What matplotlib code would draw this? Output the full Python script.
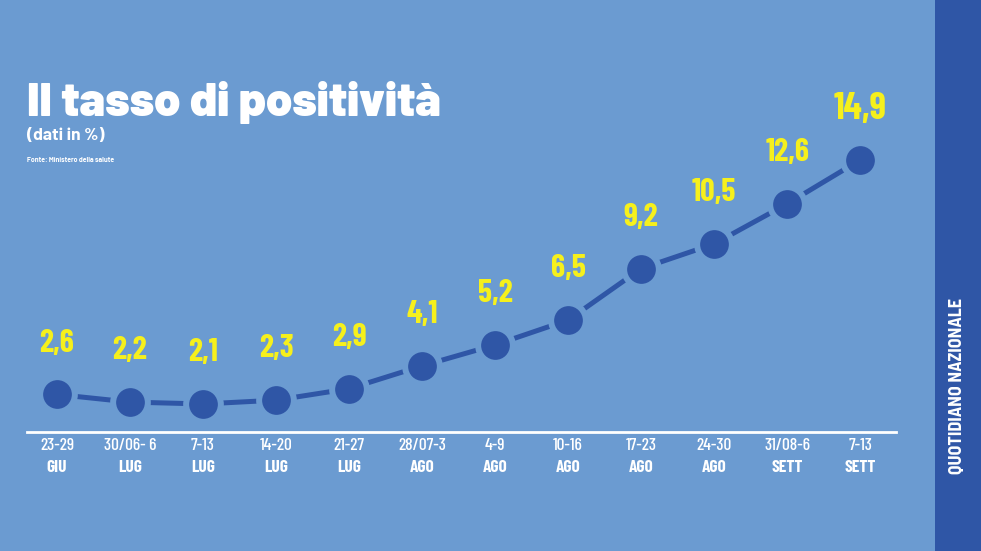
import matplotlib
matplotlib.use("Agg")
import matplotlib.pyplot as plt
import matplotlib.transforms as mtransforms
from matplotlib import font_manager as fm

# dati
settimane = ["23-29", "30/06- 6", "7-13", "14-20", "21-27", "28/07-3",
             "4-9", "10-16", "17-23", "24-30", "31/08-6", "7-13"]
mesi = ["GIU", "LUG", "LUG", "LUG", "LUG", "AGO",
        "AGO", "AGO", "AGO", "AGO", "SETT", "SETT"]
tasso = [2.6, 2.2, 2.1, 2.3, 2.9, 4.1, 5.2, 6.5, 9.2, 10.5, 12.6, 14.9]

bg = "#6b9bd1"
dark = "#2f56a6"
yellow = "#f6f01c"

available = {f.name for f in fm.fontManager.ttflist}


def pick(*cands):
    for c in cands:
        if c in available:
            return [c, "DejaVu Sans"]
    return ["DejaVu Sans"]


narrow = pick("Barlow Condensed", "Roboto Condensed", "Oswald", "Liberation Sans Narrow")
semi = pick("Barlow Semi Condensed", "Barlow Condensed", "Roboto Condensed")
wide = pick("Barlow", "Rubik", "Montserrat", "Lato")

fig = plt.figure(figsize=(9.81, 5.51), dpi=100)
fig.patch.set_facecolor(bg)

# barra laterale
fig.patches.append(plt.Rectangle((935 / 981, 0), 46 / 981, 1, transform=fig.transFigure,
                                 facecolor=dark, edgecolor="none", zorder=0))
fig.text(958 / 981, 1 - 386 / 551, "QUOTIDIANO NAZIONALE", rotation=90, color="white",
         fontsize=13, fontweight="bold", family=semi, ha="center", va="center")

# titoli
fig.text(27 / 981, 1 - 102 / 551, "Il tasso di positività", color="white", fontsize=34,
         fontweight="black", family=wide, ha="left", va="center")
fig.text(27 / 981, 1 - 135 / 551, "(dati in %)", color="white", fontsize=12.5,
         fontweight="bold", family=wide, ha="left", va="center")
fig.text(27 / 981, 1 - 160 / 551, "Fonte: Ministero della salute", color="white", fontsize=5,
         fontweight="bold", family=wide, ha="left", va="center")

ax = fig.add_axes([27 / 981, 119 / 551, 869 / 981, 342 / 551])
ax.set_facecolor("none")
x = list(range(len(tasso)))
ax.plot(x, tasso, color=dark, lw=3.6, marker="o", markersize=25, markerfacecolor=dark,
        markeredgecolor=bg, markeredgewidth=4.3, solid_capstyle="butt", zorder=3)
ax.set_xlim(-0.41, 11.49)
ax.set_ylim(0.63, 18.57)

for xi, v in zip(x, tasso):
    size = 27 if v == max(tasso) else 23
    ax.annotate(f"{v:.1f}".replace(".", ","), (xi, v), xytext=(0, 37),
                textcoords="offset points", ha="center", va="center", color=yellow,
                fontsize=size, fontweight="bold", family=narrow)

for s in ["top", "right", "left"]:
    ax.spines[s].set_visible(False)
ax.spines["bottom"].set_color("white")
ax.spines["bottom"].set_linewidth(2)
ax.set_yticks([])
ax.set_xticks([])

trans = mtransforms.blended_transform_factory(ax.transData, fig.transFigure)
for xi, s, m in zip(x, settimane, mesi):
    ax.text(xi, 1 - 446 / 551, s, transform=trans, ha="center", va="center",
            color="white", fontsize=12.5, fontweight="medium", family=narrow)
    ax.text(xi, 1 - 467 / 551, m, transform=trans, ha="center", va="center",
            color="white", fontsize=12.5, fontweight="bold", family=narrow)

fig.savefig("out.png", dpi=100, facecolor=bg)
